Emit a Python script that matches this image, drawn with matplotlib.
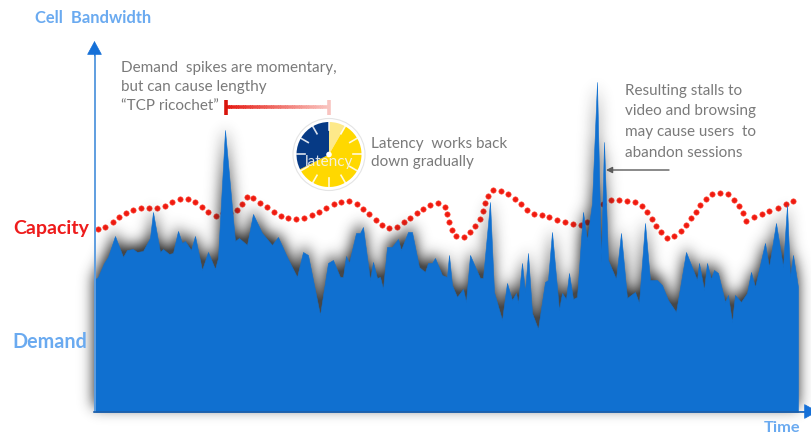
import numpy as np
import matplotlib
matplotlib.use("Agg")
import matplotlib.pyplot as plt
from matplotlib.path import Path
from matplotlib.patches import Wedge, Circle

plt.rcParams['font.family'] = ['Lato', 'DejaVu Sans']

demand_x = [94,98,104,108,115,123,127,133,137,143,150,153,160,163,169,173,178,182,185,191,195,202,208,215,218,225,235,239,247,253,262,272,278,287,297,303,308,320,328,333,340,343,346,349,356,360,363,370,373,377,380,383,387,392,398,401,408,412,419,425,428,432,435,442,447,449,452,457,463,466,470,480,483,490,494,502,507,512,516,518,522,525,528,532,538,545,548,552,559,562,566,569,573,577,583,587,592,597,601,604,608,616,621,627,635,639,645,650,657,662,668,676,686,697,699,704,707,711,714,718,725,728,732,735,741,747,751,755,765,769,776,783,787,790,793,798]
demand_y = [280,277,263,257,236,257,250,249,252,251,238,212,252,249,254,253,231,243,241,250,236,270,252,269,258,130,241,238,245,214,233,245,237,257,277,252,255,315,263,260,277,277,256,263,233,233,227,280,262,278,277,289,247,247,239,250,232,232,267,272,263,263,258,275,277,255,285,297,289,302,255,278,278,202,292,320,283,300,293,303,263,292,253,313,329,282,280,232,310,293,299,273,299,297,212,240,203,82,262,142,260,279,233,298,292,303,223,280,280,285,300,312,252,280,263,290,263,279,270,273,302,295,322,295,302,293,272,287,243,267,223,267,205,277,255,287]
capacity_x = [98,105,113,119,126,133,141,149,157,165,172,180,188,195,202,208,216,223,230,237,242,247,253,260,267,274,281,288,296,304,312,319,326,334,341,349,357,363,369,376,382,389,397,404,410,417,423,430,438,445,447,449,452,456,464,470,475,480,483,485,488,493,501,508,515,521,527,534,542,549,557,565,573,581,587,595,603,611,619,627,635,642,647,652,656,661,667,674,681,686,691,696,700,706,712,720,728,734,739,743,746,754,762,769,778,786,793]
capacity_y = [229,227,222,217,213,210,208,208,208,206,202,199,199,202,207,212,216,213,213,210,204,197,198,203,207,212,216,218,219,218,215,212,208,204,202,201,204,209,214,220,225,228,227,222,218,213,209,205,203,207,214,222,230,236,237,232,226,219,211,203,196,190,191,194,199,204,210,214,215,217,220,222,224,225,222,213,204,200,200,201,202,206,212,219,226,232,238,236,231,225,218,212,205,199,194,193,194,200,206,213,221,217,214,211,208,204,201]
tick_angles = np.arange(0, 360, 30)

fig = plt.figure(figsize=(8.11, 4.36), dpi=100)
ax = fig.add_axes([0, 0, 1, 1])
ax.set_xlim(0, 811)
ax.set_ylim(436, 0)
ax.axis('off')

BASE = 412
dx = np.array(demand_x, float)
dy = np.array(demand_y, float)

# capacity dots lie behind the demand area
ax.scatter(capacity_x, capacity_y, s=15, color='#f01a10', edgecolors='#ff5040',
           linewidths=0.4, zorder=2)

# blurred drop shadow of the demand area
poly = np.column_stack([np.r_[dx[0], dx, dx[-1]], np.r_[BASE, dy, BASE]])
H, W = 436, 811
gx, gy = np.meshgrid(np.arange(W) + .5, np.arange(H) + .5)
mask = Path(poly).contains_points(np.column_stack([gx.ravel(), gy.ravel()])).reshape(H, W).astype(float)
sig = 7.0
r = np.arange(-24, 25)
k = np.exp(-r**2 / (2 * sig**2)); k /= k.sum()
bl = np.apply_along_axis(lambda v: np.convolve(v, k, mode='same'), 0, mask)
bl = np.apply_along_axis(lambda v: np.convolve(v, k, mode='same'), 1, bl)
bl = np.roll(bl, -5, axis=0)
rgba = np.zeros((H, W, 4))
rgba[..., :3] = 0.15
rgba[..., 3] = np.clip(bl * 1.05, 0, 0.85)
ax.imshow(rgba, extent=(0, W, H, 0), zorder=3, aspect='auto', interpolation='bilinear')
ax.set_xlim(0, 811)
ax.set_ylim(436, 0)

ax.fill_between(dx, dy, BASE, color='#1070d0', linewidth=0.4, zorder=4)

# axes
HEAD = '-|>,head_length=0.7,head_width=0.38'
ax.plot([94.5, 94.5], [412, 50], color='#5f9ee0', lw=1.4, zorder=5)
ax.annotate('', xy=(94.5, 41), xytext=(94.5, 56),
            arrowprops=dict(arrowstyle=HEAD, color='#1570d8', lw=0.5, mutation_scale=13, shrinkA=0, shrinkB=0), zorder=6)
ax.plot([94, 808], [411.5, 411.5], color='#1f5fa8', lw=1.2, zorder=5)
ax.annotate('', xy=(818, 411.5), xytext=(800, 411.5), annotation_clip=False,
            arrowprops=dict(arrowstyle=HEAD, color='#1570d8', lw=0.5, mutation_scale=13, shrinkA=0, shrinkB=0), zorder=6)

# text
LB = '#6aaaf0'
GR = '#7a7a7a'
ax.text(35, 18, 'Cell  Bandwidth', color=LB, fontsize=11.9, fontweight='bold', va='center')
ax.text(13, 228, 'Capacity', color='#ee1c1c', fontsize=14, fontweight='bold', va='center')
ax.text(12, 342, 'Demand', color=LB, fontsize=14.2, fontweight='bold', va='center')
ax.text(764, 428, 'Time', color=LB, fontsize=11.8, fontweight='bold', va='center')
TS = 11
ax.text(121, 68, 'Demand  spikes are momentary,', color=GR, fontsize=TS, va='center')
ax.text(121, 87, 'but can cause lengthy', color=GR, fontsize=TS, va='center')
ax.text(121, 106, '\u201cTCP ricochet\u201d', color=GR, fontsize=TS, va='center')
ax.text(371, 144, 'Latency  works back', color=GR, fontsize=TS, va='center')
ax.text(371, 162, 'down gradually', color=GR, fontsize=TS, va='center')
for t, yy in zip(['Resulting stalls to', 'video and browsing', 'may cause users  to', 'abandon sessions'],
                 [91, 111, 132, 153]):
    ax.text(625, yy, t, color=GR, fontsize=TS, va='center')

# stall arrow
ax.annotate('', xy=(606, 170), xytext=(669, 170),
            arrowprops=dict(arrowstyle='-|>', color='#5a5a5a', lw=1, mutation_scale=9, shrinkA=0, shrinkB=0), zorder=7)

# gradient ricochet bar
xs = np.linspace(226, 329, 60)
c0, c1 = np.array([0.90, 0.10, 0.07]), np.array([0.98, 0.78, 0.76])
for a, b in zip(xs[:-1], xs[1:]):
    f = (a - 226) / 103
    ax.plot([a, b + .5], [107, 107], color=c0 + (c1 - c0) * f, lw=2.6, solid_capstyle='butt', zorder=6)
ax.plot([226, 226], [100, 115], color='#d8140c', lw=2.6, zorder=6, solid_capstyle='butt')
ax.plot([329, 329], [100, 115], color='#f8c4c0', lw=2.6, zorder=6, solid_capstyle='butt')

# latency clock
cx, cy, R = 329, 154.5, 32.5
ax.add_patch(Circle((cx, cy), 36, fc='white', ec='#e4e4e4', lw=0.8, zorder=6))
def wedge(a0, a1, col):
    # clockwise angles from twelve o'clock; y axis is inverted
    ax.add_patch(Wedge((cx, cy), R, a0 - 90, a1 - 90, fc=col, ec='none', zorder=7))
wedge(0, 30, '#fde98a')
wedge(30, 243, '#ffd800')
wedge(243, 360, '#063a85')
for ang in tick_angles:
    t = np.deg2rad(ang)
    ax.plot([cx + 24 * np.sin(t), cx + R * np.sin(t)], [cy - 24 * np.cos(t), cy - R * np.cos(t)],
            color='white', lw=1.2, alpha=0.85, zorder=8)
ax.add_patch(Circle((cx, cy), 2.8, fc='white', ec='none', zorder=9))
ax.text(cx, 162, 'latency', color='#f4f4f4', fontsize=11, ha='center', va='center', zorder=9, alpha=0.9)

fig.savefig('out.png', dpi=100)
